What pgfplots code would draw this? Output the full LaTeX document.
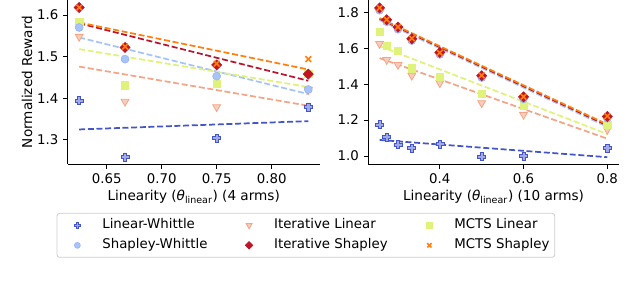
\documentclass[border=0pt]{standalone}
\usepackage{fontspec}
\setmainfont{DejaVu Sans}
\usepackage{pgfplots}
\pgfplotsset{compat=1.18}

\definecolor{LW}{HTML}{4355C8}
\definecolor{SW}{HTML}{A6C4F7}
\definecolor{IL}{HTML}{F4A487}
\definecolor{IS}{HTML}{B8162E}
\definecolor{ML}{HTML}{E0F27A}
\definecolor{MS}{HTML}{FF7F0E}

\pgfdeclareplotmark{fplus}{%
  \pgfmathsetlengthmacro\pls{\pgfplotmarksize}%
  \pgfmathsetlengthmacro\pla{0.4*\pgfplotmarksize}%
  \pgfpathmoveto{\pgfpoint{-\pla}{\pls}}%
  \pgfpathlineto{\pgfpoint{\pla}{\pls}}%
  \pgfpathlineto{\pgfpoint{\pla}{\pla}}%
  \pgfpathlineto{\pgfpoint{\pls}{\pla}}%
  \pgfpathlineto{\pgfpoint{\pls}{-\pla}}%
  \pgfpathlineto{\pgfpoint{\pla}{-\pla}}%
  \pgfpathlineto{\pgfpoint{\pla}{-\pls}}%
  \pgfpathlineto{\pgfpoint{-\pla}{-\pls}}%
  \pgfpathlineto{\pgfpoint{-\pla}{-\pla}}%
  \pgfpathlineto{\pgfpoint{-\pls}{-\pla}}%
  \pgfpathlineto{\pgfpoint{-\pls}{\pla}}%
  \pgfpathlineto{\pgfpoint{-\pla}{\pla}}%
  \pgfpathclose
  \pgfusepathqfillstroke
}

\pgfplotsset{
  base/.style={
    scale only axis,
    axis x line*=bottom, axis y line*=left,
    axis line style={line width=0.6pt, black},
    tick style={black, line width=0.6pt},
    tick align=outside,
    major tick length=3.5pt,
    tick label style={font=\fontsize{10}{12}\selectfont},
    /pgf/number format/assume math mode=true,
    label style={font=\fontsize{10.2}{12}\selectfont},
  },
  lgimg/.style={legend image code/.code={%
    \path[draw=none, fill=none] (0pt,-3pt) rectangle (22.5pt,3pt);
    \draw[##1, every mark/.append style={scale=0.75}] plot coordinates {(11.25pt,0pt)};}},
  sLW/.style={only marks, lgimg, mark=fplus, mark size=3pt, mark options={sharp corners, solid, draw=LW, fill=LW!50!white, line width=0.5pt}},
  sSW/.style={only marks, lgimg, mark=*, mark size=3pt, mark options={sharp corners, solid, draw=SW!90!blue, fill=SW, line width=0.4pt}},
  sIL/.style={only marks, lgimg, mark=triangle*, mark size=3.4pt, mark options={sharp corners, solid, rotate=180, draw=IL, fill=IL!55!white, line width=0.6pt}},
  sIS/.style={only marks, lgimg, mark=square*, mark size=2.7pt, mark options={sharp corners, solid, rotate=45, draw=IS, fill=IS!85!red, line width=0.4pt}},
  sML/.style={only marks, lgimg, mark=square*, mark size=2.7pt, mark options={sharp corners, solid, draw=ML, fill=ML, line width=0.4pt}},
  sMS/.style={only marks, lgimg, mark=x, mark size=3pt, mark options={sharp corners, solid, draw=MS, line width=1.2pt}},
  trend/.style={forget plot, no marks, line width=1.3pt, dash pattern=on 4.5pt off 2pt, #1},
}

\begin{document}
\begin{tikzpicture}
\path[use as bounding box] (0pt,0pt) rectangle (480pt,211.5pt);

\begin{axis}[base,
  at={(50.8pt,88.5pt)}, anchor=south west,
  width=189pt, height=123pt,
  xmin=0.6146, xmax=0.8437, ymin=1.242, ymax=1.636,
  xtick={0.65,0.70,0.75,0.80},
  ytick={1.3,1.4,1.5,1.6},
  xticklabel style={/pgf/number format/.cd, fixed, fixed zerofill, precision=2},
  yticklabel style={/pgf/number format/.cd, fixed, fixed zerofill, precision=1},
  xlabel={Linearity (\textit{θ}\textsubscript{linear}) (4 arms)},
  ylabel={Normalized Reward},
  xlabel style={at={(axis description cs:0.5,-0.2)}, anchor=center},
  ylabel style={at={(axis description cs:-0.1615,0.5)}, anchor=center},
  legend columns=3,
  legend cell align=left,
  legend style={at={(axis description cs:0.945,-0.435)}, anchor=center,
    draw=black!20, line width=0.6pt, rounded corners=2pt, inner sep=4pt,
    font=\fontsize{10}{12}\selectfont,
    /tikz/every odd column/.append style={column sep=7.5pt},
    /tikz/every even column/.append style={column sep=20pt},
    nodes={inner sep=0pt, text height=7.5pt, text depth=2.5pt, anchor=west},
    row sep=5pt},
]
% trend lines
\addplot[trend={LW}] coordinates {(0.625,1.325) (0.8333,1.345)};
\addplot[trend={IL}] coordinates {(0.625,1.476) (0.8333,1.382)};
\addplot[trend={SW}] coordinates {(0.625,1.546) (0.8333,1.410)};
\addplot[trend={ML}] coordinates {(0.625,1.518) (0.8333,1.427)};
\addplot[trend={IS}] coordinates {(0.625,1.580) (0.8333,1.442)};
\addplot[trend={MS}] coordinates {(0.625,1.582) (0.8333,1.469)};
% points
\addplot[sLW] coordinates {(0.625,1.394) (0.6667,1.259) (0.75,1.304) (0.8333,1.379)};
\addlegendentry{Linear-Whittle}
\addplot[sIL] coordinates {(0.625,1.548) (0.6667,1.392) (0.75,1.379) (0.8333,1.420)};
\addlegendentry{Iterative Linear}
\addplot[sML] coordinates {(0.625,1.584) (0.6667,1.431) (0.75,1.435) (0.8333,1.459)};
\addlegendentry{MCTS Linear}
\addplot[sSW] coordinates {(0.625,1.570) (0.6667,1.494) (0.75,1.453) (0.8333,1.421)};
\addlegendentry{Shapley-Whittle}
\addplot[sIS] coordinates {(0.625,1.618) (0.6667,1.522) (0.75,1.480) (0.8333,1.458)};
\addlegendentry{Iterative Shapley}
\addplot[sMS] coordinates {(0.625,1.618) (0.6667,1.524) (0.75,1.483) (0.8333,1.494)};
\addlegendentry{MCTS Shapley}
\end{axis}

\begin{axis}[base,
  at={(276.2pt,88.5pt)}, anchor=south west,
  width=187.8pt, height=123pt,
  xmin=0.229, xmax=0.8272, ymin=0.955, ymax=1.869,
  xtick={0.4,0.6,0.8},
  ytick={1.0,1.2,1.4,1.6,1.8},
  xticklabel style={/pgf/number format/.cd, fixed, fixed zerofill, precision=1},
  yticklabel style={/pgf/number format/.cd, fixed, fixed zerofill, precision=1},
  xlabel={Linearity (\textit{θ}\textsubscript{linear}) (10 arms)},
  xlabel style={at={(axis description cs:0.5,-0.2)}, anchor=center},
]
\addplot[trend={LW}] coordinates {(0.256,1.089) (0.8,0.993)};
\addplot[trend={IL}] coordinates {(0.256,1.545) (0.8,1.096)};
\addplot[trend={ML}] coordinates {(0.256,1.612) (0.8,1.122)};
\addplot[trend={SW}] coordinates {(0.256,1.757) (0.8,1.162)};
\addplot[trend={IS}] coordinates {(0.256,1.764) (0.8,1.170)};
\addplot[trend={MS}] coordinates {(0.256,1.768) (0.8,1.176)};
\addplot[sLW] coordinates {(0.256,1.174) (0.273,1.105) (0.3,1.062) (0.333,1.044) (0.4,1.066) (0.5,0.997) (0.6,1.000) (0.8,1.044)};
\addplot[sIL] coordinates {(0.256,1.625) (0.273,1.536) (0.3,1.508) (0.333,1.448) (0.4,1.406) (0.5,1.295) (0.6,1.230) (0.8,1.146)};
\addplot[sML] coordinates {(0.256,1.690) (0.273,1.616) (0.3,1.588) (0.333,1.489) (0.4,1.439) (0.5,1.345) (0.6,1.280) (0.8,1.174)};
\addplot[sSW] coordinates {(0.256,1.812) (0.273,1.748) (0.3,1.706) (0.333,1.643) (0.4,1.566) (0.5,1.437) (0.6,1.318) (0.8,1.210)};
\addplot[sIS] coordinates {(0.256,1.825) (0.273,1.759) (0.3,1.718) (0.333,1.653) (0.4,1.577) (0.5,1.447) (0.6,1.329) (0.8,1.220)};
\addplot[sMS] coordinates {(0.256,1.825) (0.273,1.760) (0.3,1.718) (0.333,1.655) (0.4,1.575) (0.5,1.449) (0.6,1.330) (0.8,1.222)};
\end{axis}
\end{tikzpicture}
\end{document}
